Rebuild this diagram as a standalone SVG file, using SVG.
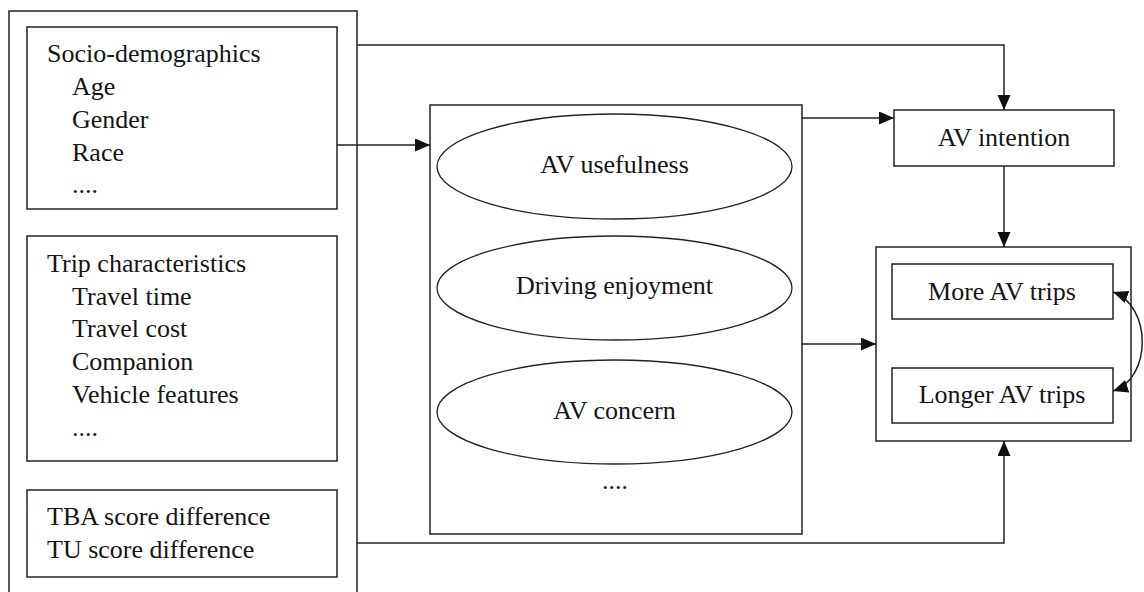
<svg xmlns="http://www.w3.org/2000/svg" width="1144" height="592" viewBox="0 0 1144 592" font-family="'Liberation Serif', Tinos, 'Times New Roman', 'DejaVu Serif', serif" font-size="26">
  <style>
    .box { fill: #ffffff; stroke: #222222; stroke-width: 1.5; }
    .ell { fill: #ffffff; stroke: #222222; stroke-width: 1.3; }
    .edge { fill: none; stroke: #222222; stroke-width: 1.5; }
    .lbl { font-family: 'Liberation Serif', Tinos, 'Times New Roman', 'DejaVu Serif', serif; font-size: 26px; fill: #151515; }
    .mid { text-anchor: middle; }
  </style>
  <defs>
    <marker id="arrow" markerUnits="userSpaceOnUse" markerWidth="16" markerHeight="14" refX="15" refY="6.5" orient="auto-start-reverse">
      <path d="M0,0 L15,6.5 L0,13 z" fill="#111111"/>
    </marker>
  </defs>

  <rect width="1144" height="592" fill="#ffffff"/>

  <!-- left column: explanatory variables -->
  <g id="inputs">
    <rect class="box" x="9" y="11" width="348" height="600"/>
  </g>
  <g id="socio" class="lbl">
    <rect class="box" x="27" y="27" width="310" height="182"/>
    <text x="47" y="62">Socio-demographics</text>
    <text x="72" y="95">Age</text>
    <text x="72" y="128">Gender</text>
    <text x="72" y="161">Race</text>
    <text x="72" y="193">....</text>
  </g>
  <g id="trip" class="lbl">
    <rect class="box" x="27" y="236" width="310" height="225"/>
    <text x="47" y="272">Trip characteristics</text>
    <text x="72" y="305">Travel time</text>
    <text x="72" y="337">Travel cost</text>
    <text x="72" y="370">Companion</text>
    <text x="72" y="403">Vehicle features</text>
    <text x="72" y="436">....</text>
  </g>
  <g id="scores" class="lbl">
    <rect class="box" x="27" y="490" width="310" height="87"/>
    <text x="47" y="525">TBA score difference</text>
    <text x="47" y="558">TU score difference</text>
  </g>

  <!-- attitudes block -->
  <g id="attitudes" class="lbl">
    <rect class="box" x="430" y="105" width="372" height="429"/>
    <text class="mid" x="615" y="489">....</text>
  </g>
  <g id="usefulness" class="lbl">
    <ellipse class="ell" cx="614.5" cy="166.5" rx="177.5" ry="52.5"/>
    <text class="mid" x="614.5" y="173">AV usefulness</text>
  </g>
  <g id="enjoyment" class="lbl">
    <ellipse class="ell" cx="614.5" cy="288" rx="177.5" ry="52"/>
    <text class="mid" x="614.5" y="294">Driving enjoyment</text>
  </g>
  <g id="concern" class="lbl">
    <ellipse class="ell" cx="614.5" cy="412" rx="177.5" ry="52"/>
    <text class="mid" x="614.5" y="419">AV concern</text>
  </g>

  <!-- intention and outcomes -->
  <g id="intention" class="lbl">
    <rect class="box" x="894" y="110" width="220" height="56"/>
    <text class="mid" x="1004" y="146">AV intention</text>
  </g>
  <g id="outcomes">
    <rect class="box" x="876" y="247" width="255" height="194"/>
  </g>
  <g id="more-trips" class="lbl">
    <rect class="box" x="892" y="264" width="221" height="55"/>
    <text class="mid" x="1002" y="300">More AV trips</text>
  </g>
  <g id="longer-trips" class="lbl">
    <rect class="box" x="892" y="368" width="221" height="55"/>
    <text class="mid" x="1002" y="403">Longer AV trips</text>
  </g>

  <!-- connectors -->
  <g id="connectors">
    <path class="edge" d="M357,45 H1004 V110" marker-end="url(#arrow)"/>
    <path class="edge" d="M337,145 H430" marker-end="url(#arrow)"/>
    <path class="edge" d="M802,118 H894" marker-end="url(#arrow)"/>
    <path class="edge" d="M1004,166 V247" marker-end="url(#arrow)"/>
    <path class="edge" d="M802,344 H876" marker-end="url(#arrow)"/>
    <path class="edge" d="M357,543 H1004 V441" marker-end="url(#arrow)"/>
    <path class="edge" d="M1113,292 C1152,306 1152,378 1113,391" marker-start="url(#arrow)" marker-end="url(#arrow)"/>
  </g>
</svg>
